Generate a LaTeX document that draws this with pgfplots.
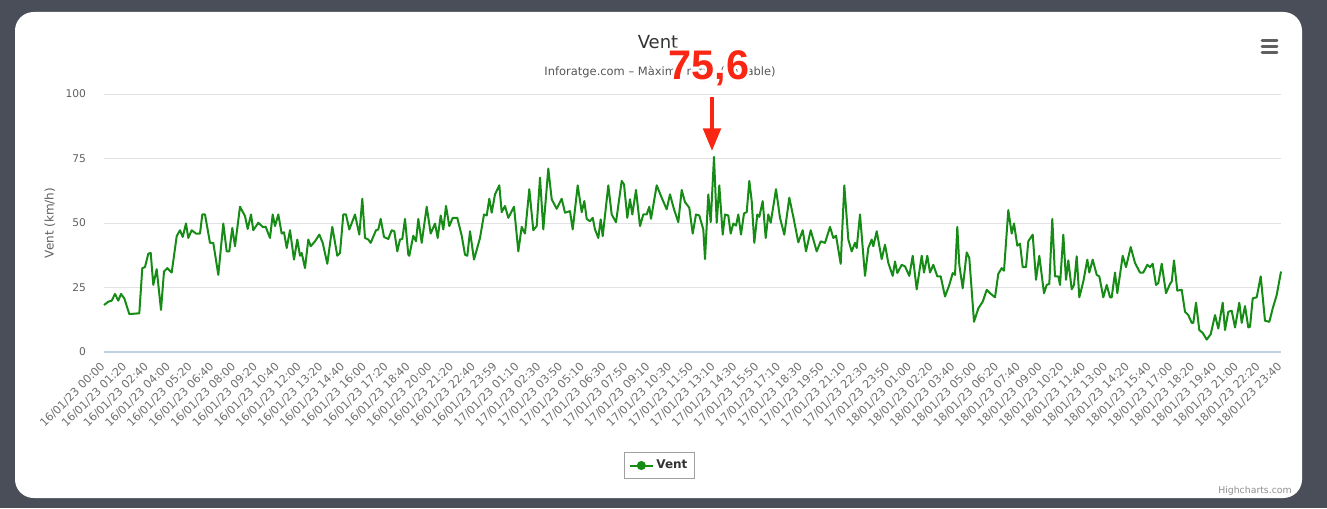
\documentclass[border=0pt]{standalone}
\usepackage{fontspec}
\setmainfont{DejaVu Sans}
\newfontfamily\annfont{Liberation Sans}
\usepackage{pgfplots}
\pgfplotsset{compat=1.18}
\usetikzlibrary{arrows.meta}
\definecolor{frame}{RGB}{74,78,88}
\definecolor{vgreen}{RGB}{22,140,22}
\definecolor{gridc}{RGB}{226,226,230}
\definecolor{axisc}{RGB}{192,208,224}
\definecolor{labc}{RGB}{96,96,96}
\definecolor{titc}{RGB}{51,51,51}
\definecolor{subc}{RGB}{85,85,85}
\definecolor{legc}{RGB}{160,160,160}
\definecolor{hcc}{RGB}{144,144,144}
\definecolor{annred}{RGB}{250,38,20}

\begin{document}
\begin{tikzpicture}[x=0.75pt,y=0.75pt]
\useasboundingbox (0,0) rectangle (1327,508);
\fill[frame] (0,0) rectangle (1327,508);
\fill[white, rounded corners=14pt] (15,10) rectangle (1302,496);
\begin{axis}[
  at={(78pt,117pt)}, anchor=south west,
  scale only axis, width=882.75pt, height=193.5pt,
  xmin=104, xmax=1281, ymin=0, ymax=100,
  axis x line=bottom, axis y line=left,
  x axis line style={-, draw=axisc, line width=0.9pt},
  y axis line style={draw=none},
  ymajorgrids, grid style={draw=gridc, line width=0.75pt},
  major tick length=0pt,
  ytick={0,25,50,75,100},
  /pgf/number format/assume math mode=true,
  yticklabel style={font=\fontsize{8pt}{9pt}\selectfont, text=labc},
  yticklabel shift=10pt,
  xtick={104,125.7963,...,1282},
  xticklabels={16/01/23 00:00,16/01/23 01:20,16/01/23 02:40,16/01/23 04:00,16/01/23 05:20,16/01/23 06:40,16/01/23 08:00,16/01/23 09:20,16/01/23 10:40,16/01/23 12:00,16/01/23 13:20,16/01/23 14:40,16/01/23 16:00,16/01/23 17:20,16/01/23 18:40,16/01/23 20:00,16/01/23 21:20,16/01/23 22:40,16/01/23 23:59,17/01/23 01:10,17/01/23 02:30,17/01/23 03:50,17/01/23 05:10,17/01/23 06:30,17/01/23 07:50,17/01/23 09:10,17/01/23 10:30,17/01/23 11:50,17/01/23 13:10,17/01/23 14:30,17/01/23 15:50,17/01/23 17:10,17/01/23 18:30,17/01/23 19:50,17/01/23 21:10,17/01/23 22:30,17/01/23 23:50,18/01/23 01:00,18/01/23 02:20,18/01/23 03:40,18/01/23 05:00,18/01/23 06:20,18/01/23 07:40,18/01/23 09:00,18/01/23 10:20,18/01/23 11:40,18/01/23 13:00,18/01/23 14:20,18/01/23 15:40,18/01/23 17:00,18/01/23 18:20,18/01/23 19:40,18/01/23 21:00,18/01/23 22:20,18/01/23 23:40},
  xticklabel style={rotate=45, anchor=east, inner sep=1pt, font=\fontsize{8.4pt}{9pt}\selectfont, text=labc!90},
  xticklabel shift=8.5pt,
  clip=false,
  legend style={at={(0.472,-0.44)}, anchor=center, draw=legc, line width=0.75pt,
    font=\bfseries\fontsize{9pt}{10pt}\selectfont, text=titc, inner xsep=3.5pt, inner ysep=4pt},
]
\addplot[vgreen, line width=1.5pt, line join=round, forget plot] coordinates {
(104.0,18.2)(108.3,19.5)(111.7,19.9)(115.0,22.5)(118.3,19.9)(121.0,22.5)(124.3,20.8)(129.3,14.7)(139.3,15.0)(142.3,32.5)(145.0,32.9)(148.3,38.1)(150.7,38.4)(153.3,26.0)(156.7,32.1)(161.0,16.3)(164.0,31.2)(167.3,32.5)(171.7,30.8)(176.7,44.9)(180.0,47.2)(182.7,44.6)(186.0,49.8)(188.3,44.2)(191.7,47.2)(196.0,45.9)(200.0,45.9)(202.3,53.3)(205.0,53.3)(210.0,42.3)(213.3,42.3)(218.3,29.9)(223.3,49.8)(226.7,39.0)(229.3,39.0)(232.3,48.1)(235.0,41.0)(240.0,56.3)(245.0,52.7)(247.7,47.7)(251.0,53.3)(253.3,47.2)(258.3,50.1)(262.7,48.5)(265.7,48.5)(270.0,44.2)(272.7,53.3)(275.0,48.8)(278.3,53.3)(281.7,45.9)(284.0,46.4)(286.7,40.3)(290.0,47.2)(294.0,35.8)(297.3,43.6)(300.0,37.3)(301.7,38.4)(305.0,32.5)(308.3,43.6)(310.7,41.0)(315.0,42.9)(319.3,45.5)(322.7,42.3)(327.3,34.2)(332.3,48.5)(337.3,37.3)(340.0,38.4)(343.3,53.3)(346.0,53.3)(349.3,47.5)(355.0,53.3)(359.3,45.5)(362.3,59.4)(365.0,44.2)(368.3,43.6)(370.7,42.3)(376.0,47.2)(378.3,47.5)(380.7,51.6)(384.0,44.6)(388.3,43.8)(391.7,47.2)(394.3,46.8)(397.3,39.0)(400.0,43.6)(402.3,43.8)(405.0,51.6)(408.3,37.7)
(409.3,37.3)(413.3,45.1)(416.0,42.9)(418.3,51.6)(421.7,42.3)(426.7,56.3)(430.7,45.9)(435.0,49.8)(437.7,44.2)(440.7,52.9)(443.3,47.5)(446.0,56.6)(449.3,48.8)(452.7,52.0)(457.3,52.0)(461.7,45.1)(465.0,37.7)(467.3,37.3)(470.0,46.8)(474.0,35.8)(480.0,44.2)(484.0,53.3)(486.7,52.9)(489.3,59.4)(491.7,54.0)(495.0,61.1)(499.3,64.6)(501.7,54.2)(505.0,56.6)(508.3,52.0)(514.0,56.3)(518.3,39.0)(521.7,48.5)(525.0,45.9)(529.3,63.1)(533.3,47.2)(536.7,48.8)(540.0,67.6)(543.3,47.5)(548.3,71.1)(551.7,59.2)(556.7,55.5)(561.7,59.4)(565.0,54.0)(570.0,54.6)(572.7,47.5)(577.7,64.6)(581.7,54.2)(584.3,58.5)(586.7,51.6)(590.0,50.7)(592.7,52.0)(595.0,47.5)(598.3,44.2)(600.7,51.4)(602.7,44.9)(608.3,64.6)(611.7,53.3)(616.0,50.3)(621.7,66.3)(624.0,65.0)(627.3,52.0)(630.0,59.2)(632.3,53.3)(636.0,62.8)(640.0,48.8)(643.3,53.3)(646.7,53.3)(649.3,56.3)(651.0,51.6)(656.7,64.6)(661.7,59.8)(666.7,55.3)(670.0,61.1)(674.0,55.3)(678.3,50.3)(681.7,62.8)(685.0,58.1)(689.3,55.9)(692.7,45.9)(696.0,53.3)(699.3,52.9)(703.3,47.5)
(705.0,36.0)(708.3,61.1)(710.7,50.3)(714.0,75.6)(716.7,50.1)(719.3,64.6)(722.7,45.5)(725.0,53.3)(728.3,52.9)(730.7,45.9)(733.3,49.8)(736.0,49.0)(738.3,53.3)(741.0,45.5)(744.0,53.7)(746.7,54.2)(749.3,66.3)(751.7,58.5)(754.3,42.3)(757.3,53.3)(759.3,52.4)(762.7,58.5)(765.7,44.2)(768.3,53.3)(770.7,50.1)(776.0,63.1)(780.0,52.0)(784.3,45.5)(789.3,59.8)(793.3,52.4)(798.3,42.5)(802.7,47.2)(806.0,39.0)(810.7,47.2)(816.7,39.0)(820.7,42.9)(825.0,42.3)(830.0,48.5)(833.3,44.2)(836.0,45.1)(840.7,34.2)(844.3,64.6)(848.3,43.6)(851.7,39.0)(855.0,42.3)(856.7,40.3)(860.0,53.3)(865.0,29.5)(868.3,40.3)(871.7,43.6)(873.3,41.0)(876.7,46.8)(881.7,36.0)(885.0,41.6)(888.3,34.5)(892.7,29.5)(895.0,35.1)(897.3,30.6)(901.7,33.8)(905.0,33.2)(909.3,29.5)(912.7,37.3)(916.7,24.3)(921.7,37.3)(924.0,30.8)(927.3,37.3)(930.0,30.8)(933.3,33.8)(937.3,29.3)(940.7,29.3)(945.0,21.5)(949.3,26.0)(952.7,30.6)(955.0,29.9)(957.3,48.5)(959.3,33.8)(962.7,24.7)(966.7,38.6)(969.3,36.4)(974.0,11.7)(978.3,16.9)(982.7,19.5)(986.7,24.1)(990.0,22.8)(995.0,21.2)(998.3,30.3)
(1001.7,32.5)(1004.0,31.5)(1008.3,55.0)(1011.7,45.9)(1014.0,49.8)(1017.3,41.2)(1020.0,42.0)(1022.7,32.9)(1026.0,32.9)(1028.3,42.9)(1032.7,45.5)(1036.0,28.0)(1039.3,37.3)(1044.0,22.8)(1046.7,26.0)(1049.3,26.4)(1052.3,51.6)(1055.0,29.3)(1058.3,29.3)(1060.0,26.0)(1063.3,45.5)(1066.0,28.0)(1068.3,35.5)(1071.7,24.3)(1074.0,26.0)(1076.7,37.1)(1079.3,21.2)(1083.3,27.3)(1087.3,35.8)(1089.3,30.8)(1092.7,35.8)(1096.7,29.9)(1099.3,29.3)(1103.3,21.2)(1106.7,26.0)(1110.0,21.2)(1111.7,21.2)(1115.0,30.8)(1117.3,22.8)(1122.7,37.3)(1126.0,32.9)(1130.7,40.7)(1135.0,34.5)(1140.0,30.8)(1143.3,30.8)(1147.3,33.8)(1150.0,32.9)(1152.7,34.2)(1156.0,26.0)(1158.3,26.7)(1161.7,34.2)(1166.0,22.8)(1170.0,26.4)(1171.7,27.3)(1174.0,35.5)(1177.3,23.8)(1181.7,24.1)(1185.0,15.6)(1188.3,14.3)(1191.7,11.3)(1193.3,11.3)(1196.0,19.1)(1199.3,8.5)(1202.7,7.4)(1206.7,4.8)(1210.7,6.9)(1215.0,14.3)(1218.3,9.1)(1222.7,19.1)(1225.0,8.5)(1228.3,15.6)(1231.7,16.0)(1235.0,9.5)(1239.3,19.1)(1241.7,11.3)(1245.0,17.8)(1248.3,9.5)(1250.0,9.8)(1252.7,20.8)(1256.7,21.2)(1260.7,29.3)(1265.0,12.1)(1269.3,11.7)(1272.7,16.9)(1276.7,22.1)(1281.0,31.2)
};
\addlegendimage{line legend, vgreen, line width=1.5pt, mark=*, mark size=2.6pt}
\addlegendentry{Vent}
\node[rotate=90, font=\fontsize{9pt}{10pt}\selectfont, text=labc] at (rel axis cs:-0.0459,0.5) {Vent (km/h)};
\end{axis}
% titles
\node[font=\fontsize{13.5pt}{16pt}\selectfont, text=titc] at (658,466) {Vent};
\node[font=\fontsize{8.6pt}{10pt}\selectfont, text=subc] at (660,436) {Inforatge.com – Màxima ratxa (variable)};
% menu icon
\foreach \yy in {467.3,461.3,455.7}{\draw[line width=2.2pt, color=labc, line cap=round] (1262,\yy) -- (1277,\yy);}
% credits
\node[anchor=east, inner sep=0pt, font=\fontsize{7pt}{8pt}\selectfont, text=hcc] at (1292,17) {Highcharts.com};
% annotation
\draw[annred, line width=3.2pt, -{Triangle[length=17pt,width=13pt]}] (712,411) -- (712,357);
\node[text=black!35, opacity=0.5, font=\annfont\bfseries\fontsize{31pt}{36pt}\selectfont] at (710.5,437.5) {75,6};
\foreach \dx/\dy in {-2.6/0,2.6/0,0/-2.6,0/2.6,-1.9/-1.9,1.9/1.9,-1.9/1.9,1.9/-1.9}{
  \node[text=white, font=\annfont\bfseries\fontsize{31pt}{36pt}\selectfont] at (709+\dx,440+\dy) {75,6};}
\node[text=annred, font=\annfont\bfseries\fontsize{31pt}{36pt}\selectfont] at (709,440) {75,6};
\end{tikzpicture}
\end{document}
